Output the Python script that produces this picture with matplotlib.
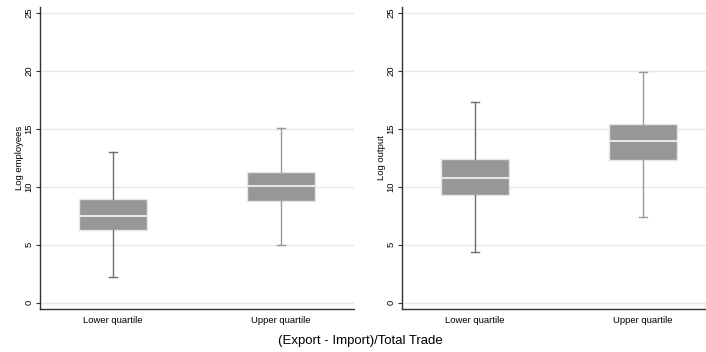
import matplotlib.pyplot as plt

plt.rcParams['font.family'] = ['Liberation Sans', 'DejaVu Sans']

groups = ['Lower quartile', 'Upper quartile']

# employees panel
emp_low = [2.2, 4.93]
emp_q1 = [6.25, 8.78]
emp_med = [7.48, 10.07]
emp_q3 = [8.9, 11.22]
emp_high = [13.0, 15.07]

# output panel
out_low = [4.33, 7.36]
out_q1 = [9.27, 12.27]
out_med = [10.77, 13.93]
out_q3 = [12.38, 15.43]
out_high = [17.33, 19.9]

panels = [
    ('Log employees', emp_low, emp_q1, emp_med, emp_q3, emp_high),
    ('Log output', out_low, out_q1, out_med, out_q3, out_high),
]

fig = plt.figure(figsize=(7.06, 3.52), dpi=100)
ax_pos = [[40/706, 43/352, 314/706, 302/352],
          [402/706, 43/352, 314/706, 302/352]]

whisk_cols = ['#6e6e6e', '#9a9a9a']

for pos, (ylab, lo, q1, med, q3, hi) in zip(ax_pos, panels):
    ax = fig.add_axes(pos)
    stats = []
    for i in range(len(groups)):
        stats.append({'whislo': lo[i], 'q1': q1[i], 'med': med[i],
                      'q3': q3[i], 'whishi': hi[i], 'fliers': [],
                      'label': groups[i]})
    for i, s in enumerate(stats):
        ax.bxp([s], positions=[i + 1], widths=0.4, patch_artist=True,
               showfliers=False, capwidths=0.045,
               boxprops=dict(facecolor='#979797', edgecolor='#e6e6e6', linewidth=1),
               medianprops=dict(color='#e6e6e6', linewidth=1.5),
               whiskerprops=dict(color=whisk_cols[i], linewidth=1),
               capprops=dict(color=whisk_cols[i], linewidth=1),
               zorder=3)
    ax.set_xlim(0.565, 2.435)
    ax.set_ylim(-0.56, 25.5)
    ax.set_yticks([0, 5, 10, 15, 20, 25])
    ax.set_xticks([1, 2])
    ax.set_xticklabels(groups, fontsize=6.8)
    ax.tick_params(axis='x', length=0, pad=5)
    ax.tick_params(axis='y', length=3, width=0.8, color='#333333', labelsize=6.8, pad=1.5)
    for lab in ax.get_yticklabels():
        lab.set_rotation(90)
        lab.set_va('center')
    ax.yaxis.grid(True, color='#e8e8e8', linewidth=1)
    ax.set_axisbelow(True)
    ax.set_ylabel(ylab, fontsize=6.8)
    ax.yaxis.set_label_coords(-0.052, 0.5)
    for side in ['top', 'right']:
        ax.spines[side].set_visible(False)
    for side in ['left', 'bottom']:
        ax.spines[side].set_color('#333333')
        ax.spines[side].set_linewidth(1)

fig.text(360/706, 1 - 341/352, '(Export - Import)/Total Trade',
         ha='center', va='center', fontsize=9.5)

fig.savefig('out.png', dpi=100, facecolor='white')
